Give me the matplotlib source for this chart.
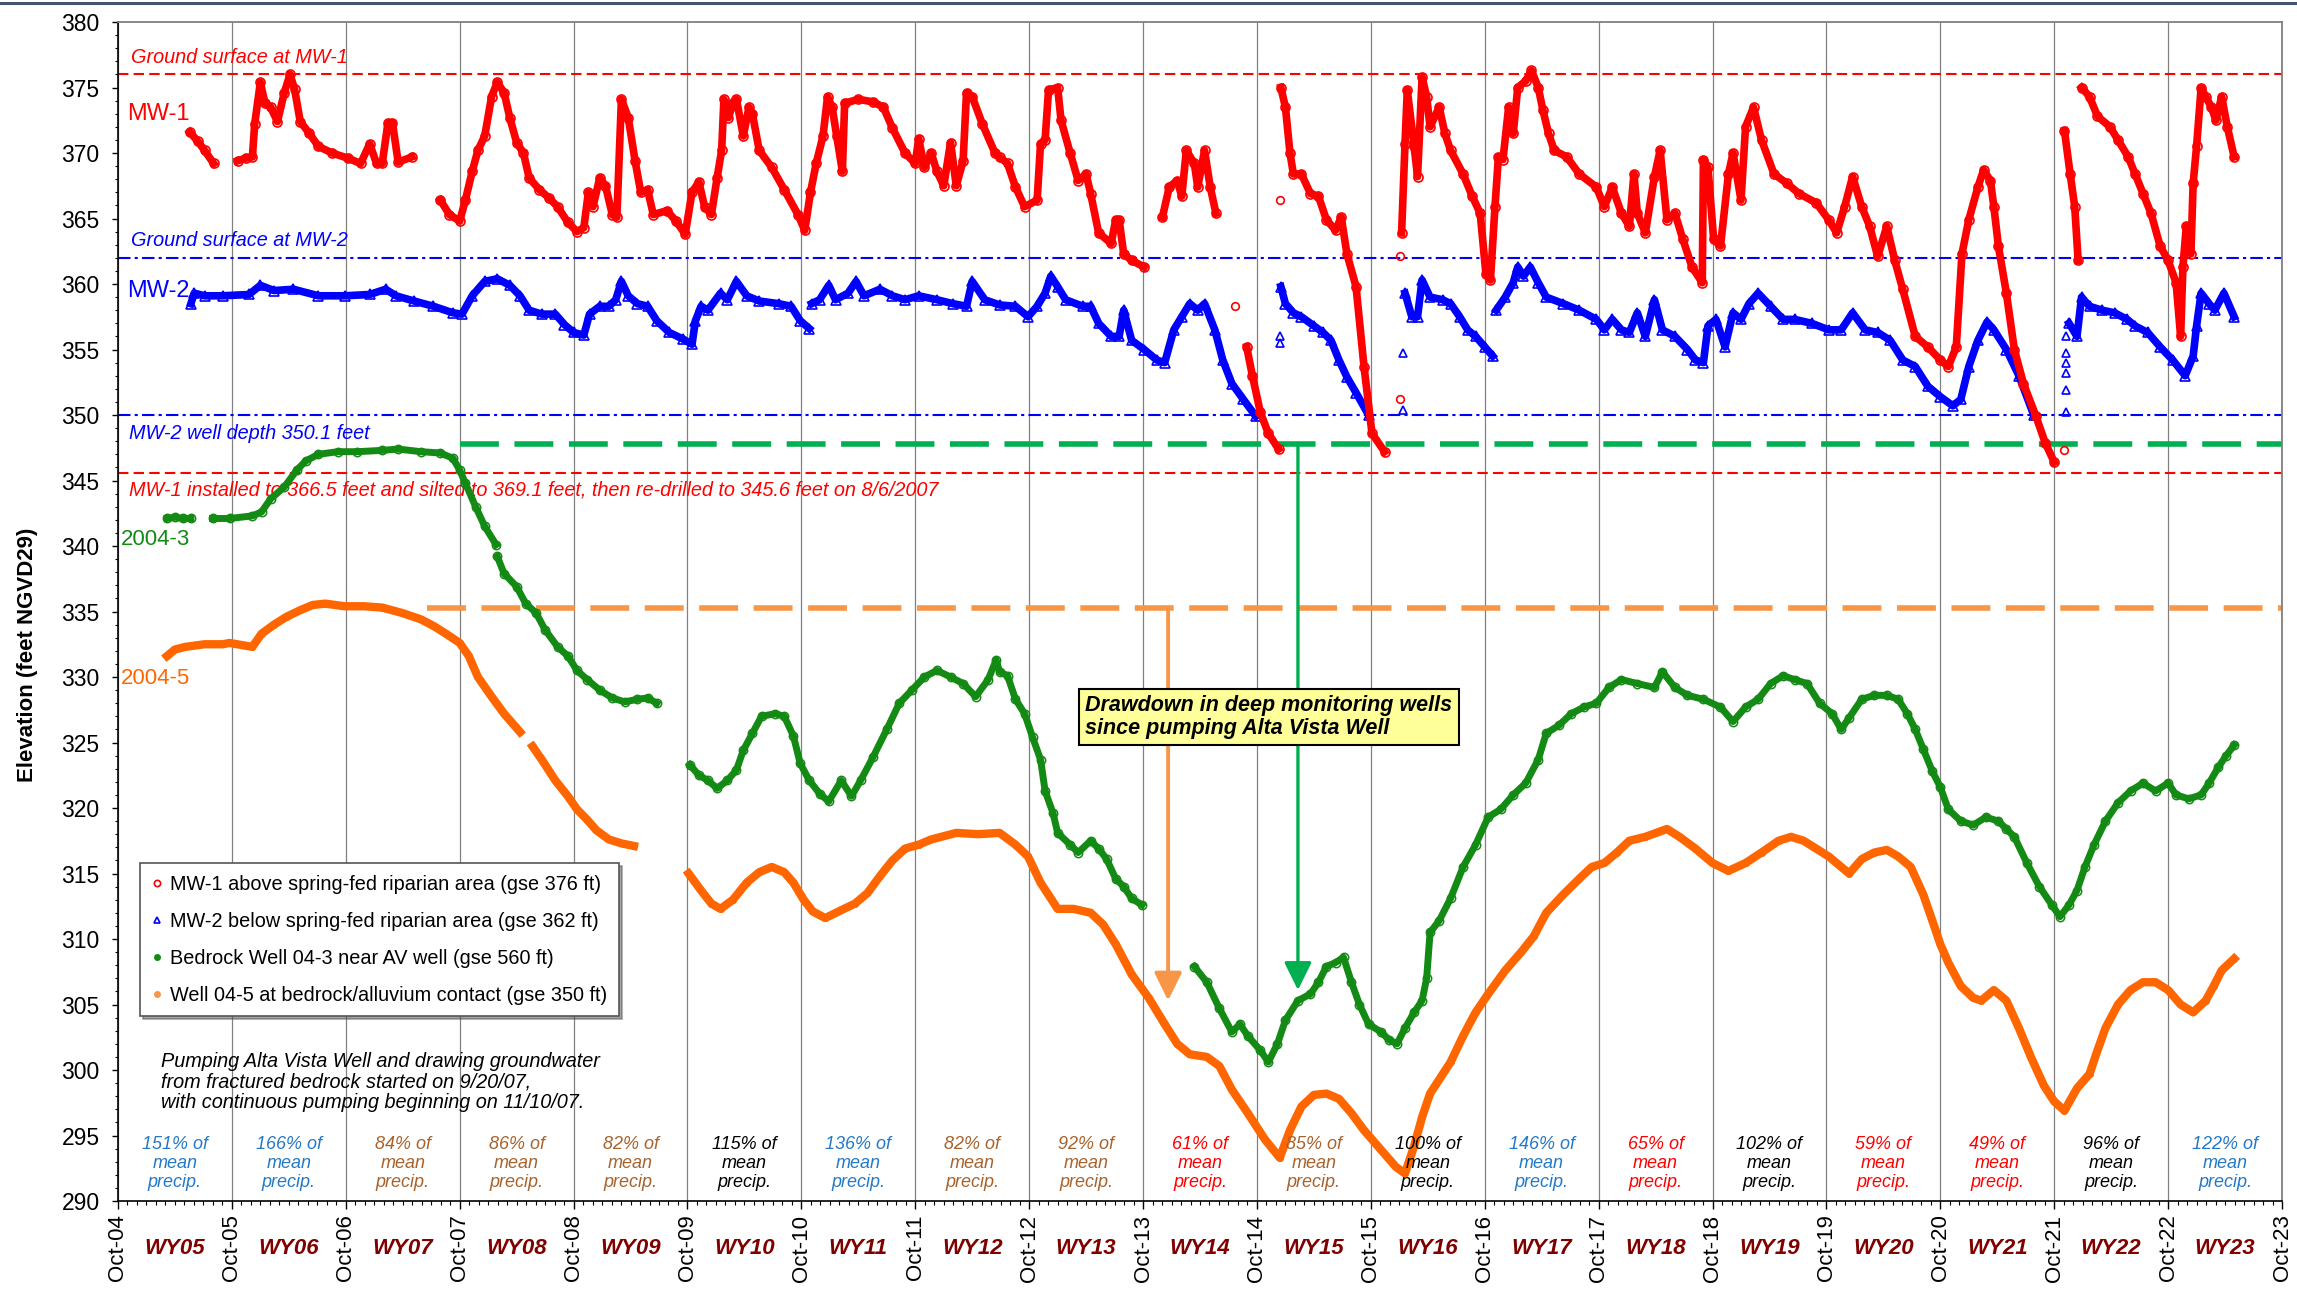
import numpy as np
import matplotlib.pyplot as plt
import matplotlib.transforms as mtransforms
from matplotlib.lines import Line2D
from matplotlib.ticker import FixedLocator, MultipleLocator

plt.rcParams['font.family'] = ['Liberation Sans', 'DejaVu Sans']

nan = np.nan

# x values are decimal years; Oct 1 of year Y sits at Y + 0.75
oct_years = list(range(2004, 2024))
wy_labels = ['WY05', 'WY06', 'WY07', 'WY08', 'WY09', 'WY10', 'WY11', 'WY12', 'WY13', 'WY14',
             'WY15', 'WY16', 'WY17', 'WY18', 'WY19', 'WY20', 'WY21', 'WY22', 'WY23']
precip_pct = [151, 166, 84, 86, 82, 115, 136, 82, 92, 61, 85, 100, 146, 65, 102, 59, 49, 96, 122]
precip_cls = ['wet', 'wet', 'dry', 'dry', 'dry', 'avg', 'wet', 'dry', 'dry', 'low',
              'dry', 'avg', 'wet', 'low', 'avg', 'low', 'low', 'avg', 'wet']

# MW-1 (red)
mw1_t = [2005.38, 2005.45, 2005.51, 2005.59, nan,
         2005.80, 2005.87, 2005.93, 2005.95, 2006.00, 2006.04, 2006.09, 2006.15, 2006.21, 2006.26,
         2006.30, 2006.35, 2006.43, 2006.51, 2006.63, 2006.77, 2006.88, 2006.96, 2007.02, 2007.07,
         2007.12, 2007.16, 2007.21, 2007.33, nan,
         2007.58, 2007.66, 2007.75, 2007.80, 2007.86, 2007.91, 2007.97, 2008.03, 2008.08, 2008.14,
         2008.19, 2008.25, 2008.31, 2008.36, 2008.45, 2008.53, 2008.61, 2008.70, 2008.78, 2008.84,
         2008.88, 2008.92, 2008.98, 2009.03, 2009.09, 2009.13, 2009.17, 2009.23, 2009.29, 2009.34,
         2009.40, 2009.45, 2009.57, 2009.65, 2009.73, 2009.79, 2009.85, 2009.90, 2009.96, 2010.01,
         2010.05, 2010.07, 2010.11, 2010.15, 2010.18, 2010.24, 2010.29, 2010.32, 2010.38, 2010.49,
         2010.60, 2010.72, 2010.78, 2010.83, 2010.88, 2010.94, 2010.98, 2011.02, 2011.06, 2011.11,
         2011.13, 2011.25, 2011.38, 2011.47, 2011.55, 2011.66, 2011.75, 2011.78, 2011.83, 2011.89,
         2011.94, 2012.00, 2012.06, 2012.11, 2012.17, 2012.20, 2012.25, 2012.34, 2012.45, 2012.49,
         2012.56, 2012.63, 2012.71, 2012.82, 2012.85, 2012.89, 2012.92, 2013.00, 2013.03, 2013.11,
         2013.18, 2013.25, 2013.29, 2013.36, 2013.47, 2013.51, 2013.54, 2013.58, 2013.65, 2013.76, nan,
         2013.92, 2013.98, 2014.05, 2014.09, 2014.13, 2014.20, 2014.23, 2014.29, 2014.34, 2014.39, nan,
         2014.66, 2014.71, 2014.78, 2014.85, 2014.94, nan,
         2014.96, 2015.00, 2015.04, 2015.07, 2015.14, 2015.22, 2015.29, 2015.36, 2015.44, 2015.49,
         2015.54, 2015.62, 2015.69, 2015.76, 2015.87, nan,
         2016.02, 2016.05, 2016.07, 2016.13, 2016.16, 2016.20, 2016.24, 2016.27, 2016.35, 2016.40,
         2016.45, 2016.56, 2016.64, 2016.71, 2016.76, 2016.80, 2016.84, 2016.87, 2016.91, 2016.96,
         2017.00, 2017.04, 2017.11, 2017.16, 2017.22, 2017.26, 2017.31, 2017.36, 2017.47, 2017.58,
         2017.73, 2017.80, 2017.87, 2017.95, 2018.02, 2018.06, 2018.09, 2018.16, 2018.24, 2018.29,
         2018.35, 2018.42, 2018.49, 2018.57, 2018.66, 2018.67, 2018.71, 2018.76, 2018.82, 2018.89,
         2018.93, 2019.00, 2019.04, 2019.11, 2019.18, 2019.29, 2019.40, 2019.51, 2019.66, 2019.77,
         2019.84, 2019.91, 2019.98, 2020.06, 2020.13, 2020.20, 2020.28, 2020.35, 2020.42, 2020.53,
         2020.64, 2020.75, 2020.82, 2020.89, 2020.94, 2021.00, 2021.08, 2021.13, 2021.19, 2021.22,
         2021.26, 2021.33, 2021.40, 2021.48, 2021.59, 2021.67, 2021.75, nan,
         2021.84, 2021.89, 2021.93, 2021.96, nan,
         2021.99, 2022.06, 2022.13, 2022.24, 2022.31, 2022.40, 2022.46, 2022.53, 2022.60, 2022.68,
         2022.75, 2022.82, 2022.86, 2022.88, 2022.91, 2022.95, 2022.97, 2023.00, 2023.04, 2023.08,
         2023.13, 2023.17, 2023.22, 2023.27, 2023.33]
mw1_v = [371.6, 370.9, 370.2, 369.2, nan,
         369.4, 369.6, 369.7, 372.2, 375.4, 373.8, 373.5, 372.4, 374.6, 376.0,
         374.9, 372.4, 371.5, 370.5, 370.0, 369.6, 369.2, 370.7, 369.2, 369.2,
         372.3, 372.3, 369.3, 369.7, nan,
         366.4, 365.3, 364.8, 366.4, 368.6, 370.2, 371.3, 374.3, 375.4, 374.6,
         372.7, 370.8, 370.0, 368.1, 367.2, 366.6, 365.9, 364.7, 364.0, 364.3,
         367.0, 365.9, 368.1, 367.5, 365.3, 365.1, 374.1, 372.7, 369.4, 367.0,
         367.2, 365.3, 365.6, 364.8, 363.8, 367.0, 367.8, 365.9, 365.3, 368.1,
         370.2, 374.1, 372.7, 373.8, 374.1, 371.3, 373.5, 373.0, 370.2, 368.9,
         367.2, 365.3, 364.1, 367.0, 369.2, 371.3, 374.3, 373.5, 371.3, 368.6,
         373.8, 374.1, 373.9, 373.5, 371.9, 370.0, 369.2, 371.1, 368.9, 370.0,
         368.6, 367.5, 370.8, 367.5, 369.4, 374.6, 374.3, 372.2, 370.0, 369.7,
         369.2, 367.4, 365.9, 366.4, 370.7, 371.0, 374.8, 375.0, 372.5, 370.0,
         367.9, 368.4, 366.9, 363.9, 363.1, 364.9, 364.9, 362.3, 361.8, 361.3, nan,
         365.1, 367.4, 367.9, 366.7, 370.2, 369.2, 367.4, 370.2, 367.4, 365.4, nan,
         355.2, 353.0, 350.2, 348.6, 347.4, nan,
         375.0, 373.5, 370.0, 368.4, 368.4, 366.9, 366.7, 364.9, 364.1, 365.1,
         362.3, 359.8, 353.7, 348.6, 347.2, nan,
         363.9, 370.7, 374.8, 370.5, 368.2, 375.8, 374.3, 372.0, 373.5, 371.5,
         370.2, 368.4, 366.7, 365.4, 360.8, 360.3, 365.9, 369.7, 369.5, 373.5,
         371.5, 375.0, 375.5, 376.3, 375.0, 373.3, 371.5, 370.2, 369.7, 368.4,
         367.4, 365.9, 367.4, 365.4, 364.4, 368.4, 365.4, 363.9, 368.2, 370.2,
         364.9, 365.4, 363.4, 361.3, 360.1, 369.5, 368.9, 363.4, 362.9, 368.4,
         370.0, 366.4, 372.0, 373.5, 371.0, 368.4, 367.7, 366.9, 366.2, 364.9,
         363.9, 365.9, 368.2, 365.9, 364.4, 362.1, 364.4, 361.8, 359.6, 356.0,
         355.2, 354.2, 353.7, 355.2, 362.3, 364.9, 367.4, 368.7, 367.9, 365.9,
         362.9, 359.3, 355.0, 352.4, 349.9, 347.9, 346.4, nan,
         371.7, 368.4, 365.9, 361.8, nan,
         375.0, 374.3, 372.8, 372.0, 371.0, 369.7, 368.4, 366.9, 365.4, 362.9,
         361.8, 360.1, 356.0, 361.3, 364.4, 362.3, 367.7, 370.5, 375.0, 374.3,
         373.5, 372.5, 374.3, 372.0, 369.7]
mw1_pts_t = [2014.56, 2014.95, 2016.01, 2016.01, 2021.84]
mw1_pts_v = [358.3, 366.4, 351.2, 362.1, 347.3]

# MW-2 (blue)
mw2_t = [2005.39, 2005.42, 2005.51, 2005.67, 2005.90, 2006.00, 2006.12, 2006.29, 2006.51, 2006.74,
         2006.96, 2007.10, 2007.19, 2007.35, 2007.52, 2007.69, 2007.77, 2007.86, 2007.97, 2008.08,
         2008.19, 2008.28, 2008.36, 2008.47, 2008.59, 2008.67, 2008.75, 2008.84, 2008.89, 2008.98,
         2009.06, 2009.12, 2009.17, 2009.23, 2009.31, 2009.40, 2009.48, 2009.59, 2009.71, 2009.79,
         2009.82, 2009.87, 2009.93, 2010.04, 2010.10, 2010.18, 2010.27, 2010.38, 2010.55, 2010.66,
         2010.74, 2010.82, nan,
         2010.84, 2010.91, 2010.99, 2011.05, 2011.16, 2011.23, 2011.30, 2011.44, 2011.55, 2011.66,
         2011.78, 2011.94, 2012.08, 2012.20, 2012.25, 2012.36, 2012.49, 2012.63, 2012.74, 2012.82,
         2012.89, 2012.94, 2013.00, 2013.07, 2013.22, 2013.29, 2013.36, 2013.47, 2013.54, 2013.58,
         2013.65, 2013.76, 2013.87, 2013.94, 2014.02, 2014.09, 2014.16, 2014.23, 2014.29, 2014.38,
         2014.45, 2014.53, 2014.63, 2014.74, nan,
         2014.96, 2015.00, 2015.07, 2015.14, 2015.25, 2015.33, 2015.40, 2015.47, 2015.54, 2015.62,
         2015.73, nan,
         2016.05, 2016.11, 2016.16, 2016.20, 2016.27, 2016.38, 2016.45, 2016.53, 2016.60, 2016.67,
         2016.75, 2016.82, nan,
         2016.85, 2016.93, 2017.00, 2017.04, 2017.09, 2017.15, 2017.22, 2017.29, 2017.44, 2017.58,
         2017.73, 2017.80, 2017.87, 2017.95, 2018.02, 2018.09, 2018.16, 2018.24, 2018.31, 2018.42,
         2018.53, 2018.60, 2018.67, 2018.71, 2018.78, 2018.86, 2018.93, 2019.00, 2019.07, 2019.15,
         2019.26, 2019.37, 2019.47, 2019.62, 2019.77, 2019.88, 2019.98, 2020.09, 2020.20, 2020.31,
         2020.42, 2020.53, 2020.64, 2020.75, 2020.86, 2020.93, 2021.00, 2021.08, 2021.16, 2021.22,
         2021.33, 2021.44, 2021.57, nan,
         2021.88, 2021.95, 2021.99, 2022.06, 2022.17, 2022.28, 2022.39, 2022.46, 2022.57, 2022.68,
         2022.79, 2022.90, 2022.97, 2023.00, 2023.04, 2023.11, 2023.16, 2023.24, 2023.33]
mw2_v = [358.5, 359.3, 359.1, 359.1, 359.2, 359.9, 359.5, 359.6, 359.1, 359.1,
         359.2, 359.6, 359.1, 358.7, 358.3, 357.8, 357.7, 359.1, 360.2, 360.4,
         359.9, 359.1, 358.0, 357.7, 357.7, 356.9, 356.3, 356.1, 357.7, 358.3,
         358.3, 358.8, 360.2, 359.1, 358.5, 358.3, 357.2, 356.3, 355.8, 355.4,
         357.2, 358.3, 358.0, 359.3, 358.8, 360.2, 359.1, 358.7, 358.5, 358.3,
         357.2, 356.6, nan,
         358.5, 358.8, 359.9, 358.8, 359.3, 360.2, 359.1, 359.6, 359.1, 358.8,
         359.1, 358.8, 358.5, 358.3, 360.2, 358.8, 358.4, 358.3, 357.5, 358.3,
         359.3, 360.6, 359.8, 358.8, 358.3, 358.3, 357.0, 356.0, 356.0, 358.0,
         355.7, 355.0, 354.2, 354.0, 356.5, 357.5, 358.5, 358.0, 358.5, 356.5,
         354.2, 352.4, 351.2, 349.9, nan,
         359.8, 358.5, 357.8, 357.5, 356.8, 356.3, 355.7, 354.2, 352.9, 351.7,
         350.0, nan,
         359.3, 357.5, 357.5, 360.3, 359.0, 358.8, 358.5, 357.5, 356.5, 356.0,
         355.2, 354.5, nan,
         358.0, 359.0, 360.1, 361.3, 360.6, 361.3, 360.1, 359.0, 358.5, 358.0,
         357.3, 356.5, 357.3, 356.5, 356.3, 357.8, 356.0, 358.8, 356.5, 356.0,
         355.0, 354.2, 354.0, 356.8, 357.3, 355.2, 357.8, 357.3, 358.5, 359.3,
         358.3, 357.3, 357.3, 357.0, 356.5, 356.5, 357.8, 356.5, 356.3, 355.7,
         354.2, 353.7, 352.2, 351.4, 350.7, 351.2, 353.7, 355.7, 357.1, 356.5,
         355.0, 353.0, 350.0, nan,
         357.0, 356.0, 359.0, 358.3, 358.0, 357.8, 357.3, 356.8, 356.3, 355.2,
         354.2, 353.0, 354.5, 356.8, 359.3, 358.5, 358.0, 359.3, 357.5]
mw2_pts_t = [2014.95, 2014.95, 2016.03, 2016.03, 2021.85, 2021.85, 2021.85, 2021.85, 2021.85, 2021.85]
mw2_pts_v = [355.5, 356.0, 350.4, 354.7, 350.2, 351.9, 353.2, 354.0, 354.7, 356.0]

# Bedrock well 2004-3 (green)
w43_t = [2005.18, 2005.25, 2005.32, 2005.39, nan,
         2005.58, 2005.73, 2005.93, 2006.01, 2006.09, 2006.21, 2006.32, 2006.40, 2006.51, 2006.68,
         2006.85, 2007.07, 2007.21, 2007.41, 2007.58, 2007.69, 2007.75, 2007.80, 2007.89, 2007.97,
         2008.07, nan,
         2008.08, 2008.14, 2008.25, 2008.33, 2008.42, 2008.50, 2008.61, 2008.70, 2008.78, 2008.87,
         2008.98, 2009.09, 2009.20, 2009.31, 2009.40, 2009.48, nan,
         2009.77, 2009.85, 2009.93, 2010.01, 2010.10, 2010.18, 2010.24, 2010.32, 2010.40, 2010.52,
         2010.60, 2010.68, 2010.74, 2010.82, 2010.91, 2010.99, 2011.10, 2011.19, 2011.27, 2011.38,
         2011.50, 2011.61, 2011.72, 2011.83, 2011.94, 2012.06, 2012.17, 2012.28, 2012.39, 2012.46,
         2012.49, 2012.56, 2012.63, 2012.71, 2012.78, 2012.85, 2012.89, 2012.96, 2013.00, 2013.11,
         2013.18, 2013.29, 2013.36, 2013.43, 2013.51, 2013.58, 2013.65, 2013.74, nan,
         2014.20, 2014.31, 2014.42, 2014.53, 2014.60, 2014.67, 2014.78, 2014.85, 2014.93, 2015.00,
         2015.11, 2015.22, 2015.29, 2015.36, 2015.44, 2015.51, 2015.58, 2015.65, 2015.73, 2015.84,
         2015.91, 2015.98, 2016.05, 2016.13, 2016.20, 2016.24, 2016.27, 2016.35, 2016.45, 2016.56,
         2016.67, 2016.78, 2016.89, 2017.00, 2017.11, 2017.22, 2017.29, 2017.40, 2017.51, 2017.62,
         2017.73, 2017.84, 2017.95, 2018.09, 2018.24, 2018.31, 2018.42, 2018.53, 2018.67, 2018.82,
         2018.93, 2019.04, 2019.15, 2019.26, 2019.37, 2019.47, 2019.58, 2019.69, 2019.80, 2019.88,
         2019.95, 2020.06, 2020.17, 2020.28, 2020.38, 2020.46, 2020.53, 2020.60, 2020.68, 2020.75,
         2020.82, 2020.93, 2021.04, 2021.15, 2021.26, 2021.33, 2021.40, 2021.51, 2021.62, 2021.73,
         2021.80, 2021.88, 2021.95, 2022.02, 2022.10, 2022.20, 2022.31, 2022.42, 2022.53, 2022.64,
         2022.75, 2022.82, 2022.93, 2023.04, 2023.11, 2023.19, 2023.26, 2023.33]
w43_v = [342.1, 342.2, 342.1, 342.1, nan,
         342.1, 342.1, 342.3, 342.6, 343.6, 344.5, 345.8, 346.5, 347.0, 347.2,
         347.2, 347.3, 347.4, 347.2, 347.1, 346.7, 345.8, 344.8, 343.0, 341.5,
         340.1, nan,
         339.2, 337.9, 336.9, 335.6, 334.9, 333.6, 332.3, 331.6, 330.5, 329.8,
         329.0, 328.4, 328.1, 328.3, 328.4, 328.0, nan,
         323.3, 322.5, 322.1, 321.5, 322.1, 322.9, 324.4, 325.7, 327.0, 327.2,
         327.0, 325.5, 323.4, 322.1, 321.1, 320.5, 322.1, 320.9, 322.1, 323.9,
         326.0, 328.0, 329.0, 330.0, 330.5, 330.0, 329.5, 328.5, 329.8, 331.3,
         330.4, 330.1, 328.3, 327.2, 325.4, 323.7, 321.3, 319.6, 318.1, 317.2,
         316.6, 317.5, 316.9, 316.1, 314.6, 314.0, 313.1, 312.6, nan,
         307.9, 306.7, 304.7, 302.9, 303.5, 302.6, 301.5, 300.6, 302.0, 303.8,
         305.3, 305.8, 306.7, 307.9, 308.2, 308.6, 306.7, 305.0, 303.5, 302.9,
         302.3, 302.0, 303.2, 304.4, 305.3, 307.0, 310.5, 311.4, 313.1, 315.5,
         317.2, 319.3, 319.9, 321.0, 321.9, 323.7, 325.7, 326.3, 327.2, 327.7,
         328.0, 329.2, 329.8, 329.5, 329.2, 330.4, 329.2, 328.6, 328.3, 327.7,
         326.6, 327.7, 328.3, 329.5, 330.1, 329.8, 329.5, 328.0, 327.2, 326.0,
         326.9, 328.3, 328.6, 328.6, 328.3, 327.2, 326.0, 324.5, 322.8, 321.6,
         319.9, 319.0, 318.7, 319.3, 319.0, 318.4, 317.8, 315.8, 314.0, 312.6,
         311.7, 312.6, 313.7, 315.5, 317.2, 319.0, 320.4, 321.3, 321.9, 321.3,
         321.9, 321.0, 320.7, 321.0, 321.9, 323.1, 324.0, 324.8]

# Well 2004-5 (orange)
w45_t = [2005.18, 2005.25, 2005.34, 2005.51, 2005.67, 2005.73, 2005.93, 2006.01, 2006.12, 2006.23,
         2006.35, 2006.46, 2006.57, 2006.74, 2006.91, 2007.07, 2007.24, 2007.41, 2007.52, 2007.63,
         2007.75, 2007.83, 2007.91, 2008.03, 2008.14, 2008.28, nan,
         2008.39, 2008.47, 2008.59, 2008.70, 2008.78, 2008.87, 2008.95, 2009.06, 2009.17, 2009.28, nan,
         2009.76, 2009.87, 2009.96, 2010.04, 2010.15, 2010.27, 2010.38, 2010.49, 2010.60, 2010.68,
         2010.77, 2010.85, 2010.96, 2011.10, 2011.22, 2011.33, 2011.44, 2011.55, 2011.66, 2011.78,
         2011.89, 2012.11, 2012.30, 2012.49, 2012.63, 2012.74, 2012.85, 2013.00, 2013.14, 2013.29,
         2013.40, 2013.51, 2013.65, 2013.80, 2013.94, 2014.05, 2014.16, 2014.31, 2014.42, 2014.53,
         2014.67, 2014.82, 2014.95, 2015.04, 2015.14, 2015.25, 2015.36, 2015.47, 2015.58, 2015.69,
         2015.84, 2015.97, 2016.05, 2016.13, 2016.20, 2016.27, 2016.45, 2016.56, 2016.67, 2016.78,
         2016.93, 2017.07, 2017.18, 2017.29, 2017.44, 2017.58, 2017.69, 2017.80, 2017.91, 2018.02,
         2018.16, 2018.35, 2018.46, 2018.60, 2018.75, 2018.89, 2019.04, 2019.18, 2019.33, 2019.44,
         2019.55, 2019.66, 2019.77, 2019.88, 2019.95, 2020.06, 2020.17, 2020.28, 2020.38, 2020.49,
         2020.60, 2020.68, 2020.75, 2020.82, 2020.93, 2021.04, 2021.11, 2021.22, 2021.33, 2021.44,
         2021.55, 2021.66, 2021.75, 2021.84, 2021.95, 2022.06, 2022.13, 2022.20, 2022.31, 2022.42,
         2022.53, 2022.64, 2022.75, 2022.86, 2022.97, 2023.08, 2023.15, 2023.22, 2023.33]
w45_v = [331.6, 332.1, 332.3, 332.5, 332.5, 332.6, 332.3, 333.3, 334.0, 334.6,
         335.1, 335.5, 335.6, 335.4, 335.4, 335.3, 334.9, 334.4, 333.9, 333.3,
         332.6, 331.6, 330.0, 328.5, 327.2, 325.8, nan,
         324.7, 323.7, 322.1, 320.9, 319.9, 319.1, 318.3, 317.6, 317.3, 317.1, nan,
         315.0, 313.7, 312.7, 312.3, 313.0, 314.3, 315.1, 315.5, 315.1, 314.3,
         313.0, 312.1, 311.6, 312.2, 312.7, 313.5, 314.8, 316.0, 316.9, 317.2,
         317.6, 318.1, 318.0, 318.1, 317.2, 316.3, 314.3, 312.3, 312.3, 312.0,
         311.1, 309.6, 307.3, 305.5, 303.5, 302.0, 301.2, 301.0, 300.3, 298.5,
         296.7, 294.7, 293.3, 295.4, 297.2, 298.1, 298.2, 297.8, 296.7, 295.4,
         293.9, 292.6, 292.1, 294.2, 296.4, 298.2, 300.6, 302.6, 304.4, 305.8,
         307.6, 309.0, 310.2, 312.0, 313.4, 314.6, 315.5, 315.8, 316.6, 317.5,
         317.8, 318.4, 317.8, 316.9, 315.8, 315.2, 315.8, 316.6, 317.5, 317.8,
         317.5, 316.9, 316.3, 315.5, 315.0, 316.1, 316.6, 316.8, 316.3, 315.5,
         313.4, 311.4, 309.6, 308.2, 306.4, 305.5, 305.3, 306.1, 305.3, 303.2,
         300.9, 298.8, 297.6, 296.9, 298.6, 299.7, 301.5, 303.2, 305.0, 306.1,
         306.7, 306.7, 306.1, 305.0, 304.4, 305.3, 306.4, 307.6, 308.5]

# reference levels (ft)
gse_mw1 = 376.0
gse_mw2 = 362.0
mw2_depth = 350.0
mw1_depth = 345.6
w43_prepump = 347.8
w45_prepump = 335.3
w43_arrow = (2015.11, 306.1)
w45_arrow = (2013.97, 305.3)

RED, BLUE, GREEN, ORANGE = '#FF0000', '#0000FF', '#138A13', '#FF6600'
precip_color = {'wet': '#2479C7', 'dry': '#A8622C', 'low': '#FF0000', 'avg': '#000000'}

fig = plt.figure(figsize=(22.97, 12.93), dpi=100)
ax = fig.add_axes([0.05137, 0.07115, 0.94210, 0.91183])
fig.add_artist(Line2D([0, 1], [0.9975, 0.9975], color='#44546A', lw=2.2, transform=fig.transFigure))

ax.set_xlim(2004.75, 2023.75)
ax.set_ylim(290, 380)

# reference lines
ax.axhline(gse_mw1, color=RED, lw=1.5, dashes=(5, 2.5), zorder=2)
ax.axhline(mw1_depth, color=RED, lw=1.5, dashes=(5, 2.5), zorder=2)
ax.axhline(gse_mw2, color=BLUE, lw=1.5, dashes=(6, 2, 1.5, 2), zorder=2)
ax.axhline(mw2_depth, color=BLUE, lw=1.5, dashes=(6, 2, 1.5, 2), zorder=2)
ax.plot([2007.75, 2023.75], [w43_prepump] * 2, color='#00B050', lw=4.0, dashes=(7, 2.8), zorder=2.2)
ax.plot([2007.46, 2023.75], [w45_prepump] * 2, color='#F79646', lw=4.0, dashes=(7, 2.8), zorder=2.2)

txt = dict(style='italic', fontsize=14.3, va='center', ha='left', zorder=2.5)
blend = mtransforms.blended_transform_factory(ax.transAxes, ax.transData)
ax.text(0.006, 377.3, 'Ground surface at MW-1', color=RED, transform=blend, **txt)
ax.text(0.006, 363.3, 'Ground surface at MW-2', color=BLUE, transform=blend, **txt)
ax.text(0.005, 348.6, 'MW-2 well depth 350.1 feet', color=BLUE, transform=blend, **txt)
ax.text(0.005, 344.3, 'MW-1 installed to 366.5 feet and silted to 369.1 feet, then re-drilled to 345.6 feet on 8/6/2007',
        color=RED, transform=blend, **txt)
ax.text(0.004, 373.0, 'MW-1', color=RED, fontsize=17, va='center', transform=blend, zorder=2.5)
ax.text(0.004, 359.5, 'MW-2', color=BLUE, fontsize=17, va='center', transform=blend, zorder=2.5)
ax.text(0.0015, 340.5, '2004-3', color=GREEN, fontsize=16, va='center', transform=blend, zorder=2.5)
ax.text(0.0015, 329.9, '2004-5', color=ORANGE, fontsize=16, va='center', transform=blend, zorder=2.5)

# series
ax.plot(w45_t, w45_v, color=ORANGE, lw=6.0, marker='o', ms=5, mew=0, zorder=3)
ax.plot(w43_t, w43_v, color=GREEN, lw=5.0, marker='o', ms=6, mfc='none', mec=GREEN, mew=1.1, zorder=3)
ax.plot(mw2_t, mw2_v, color=BLUE, lw=5.5, marker='^', ms=6.5, mfc='none', mec=BLUE, mew=1.2, zorder=3.1)
ax.plot(mw2_pts_t, mw2_pts_v, ls='none', marker='^', ms=5.5, mfc='none', mec=BLUE, mew=1.2, zorder=3.1)
ax.plot(mw1_t, mw1_v, color=RED, lw=5.5, marker='o', ms=6.5, mfc='none', mec=RED, mew=1.2, zorder=3.2)
ax.plot(mw1_pts_t, mw1_pts_v, ls='none', marker='o', ms=5.5, mfc='none', mec=RED, mew=1.2, zorder=3.2)

# drawdown arrows
for (xa, ya), y0, col, lw in [(w45_arrow, w45_prepump, '#F79646', 2.8), (w43_arrow, w43_prepump, '#00B050', 2.4)]:
    ax.annotate('', xy=(xa, ya), xytext=(xa, y0),
                arrowprops=dict(arrowstyle='-|>,head_width=0.42,head_length=0.85', color=col, lw=lw,
                                mutation_scale=20, shrinkA=0, shrinkB=0), zorder=4)

ax.text(2013.24, 326.95, 'Drawdown in deep monitoring wells\nsince pumping Alta Vista Well',
        fontsize=15.5, fontweight='bold', style='italic', ha='left', va='center', linespacing=1.1,
        bbox=dict(boxstyle='square,pad=0.3', fc='#FFFF99', ec='black', lw=1.5), zorder=6)

ax.text(0.0199, 0.101, 'Pumping Alta Vista Well and drawing groundwater\nfrom fractured bedrock started on 9/20/07,\n'
        'with continuous pumping beginning on 11/10/07.', transform=ax.transAxes, style='italic',
        fontsize=14.3, ha='left', va='center', linespacing=1.1, zorder=5)

# precipitation notes and water-year labels
wy_blend = mtransforms.blended_transform_factory(ax.transData, ax.transAxes)
for i, (lab, pct, cls) in enumerate(zip(wy_labels, precip_pct, precip_cls)):
    xc = oct_years[i] + 1.25
    ax.text(xc, 292.83, '%d%% of\nmean\nprecip.' % pct, color=precip_color[cls], style='italic',
            fontsize=13, ha='center', va='center', linespacing=1.15, zorder=5)
    ax.text(xc, -0.04, lab, transform=wy_blend, color='#800000', fontsize=16, fontweight='bold',
            style='italic', ha='center', va='center', clip_on=False)

# legend
handles = [Line2D([], [], ls='none', marker='o', ms=4.5, mfc='none', mec=RED, mew=1.2),
           Line2D([], [], ls='none', marker='^', ms=4.5, mfc='none', mec=BLUE, mew=1.2),
           Line2D([], [], ls='none', marker='o', ms=4, mfc=GREEN, mec=GREEN),
           Line2D([], [], ls='none', marker='o', ms=4, mfc='#F79646', mec='#F79646')]
labels = ['MW-1 above spring-fed riparian area (gse 376 ft)',
          'MW-2 below spring-fed riparian area (gse 362 ft)',
          'Bedrock Well 04-3 near AV well (gse 560 ft)',
          'Well 04-5 at bedrock/alluvium contact (gse 350 ft)']
leg = ax.legend(handles, labels, loc='upper left', bbox_to_anchor=(0.0102, 0.2867), fontsize=14.3,
                frameon=True, fancybox=False, shadow=True, edgecolor='#555555', framealpha=1,
                handlelength=0.5, handletextpad=0.4, labelspacing=0.9, borderpad=0.6, borderaxespad=0)
leg.get_frame().set_linewidth(1.2)
leg.set_zorder(7)

# axes, ticks, grid
ax.set_xticks([y + 0.75 for y in oct_years])
ax.set_xticklabels(['Oct-%02d' % (y % 100) for y in oct_years], rotation=90, fontsize=16)
ax.xaxis.set_minor_locator(FixedLocator([2004.75 + m / 12 for m in range(229)]))
ax.yaxis.set_major_locator(MultipleLocator(5))
ax.yaxis.set_minor_locator(MultipleLocator(1))
ax.tick_params(axis='y', which='major', labelsize=16.5, length=4.3, pad=9, width=1)
ax.tick_params(axis='y', which='minor', length=2.5, width=0.8)
ax.tick_params(axis='x', which='major', length=5.8, width=1, pad=4)
ax.tick_params(axis='x', which='minor', length=3.2, width=0.8)
ax.grid(axis='x', which='major', color='#808080', lw=0.9)
ax.set_axisbelow(True)
for side in ['top', 'right']:
    ax.spines[side].set_color('#808080')
    ax.spines[side].set_linewidth(1.3)
for side in ['left', 'bottom']:
    ax.spines[side].set_linewidth(1.2)

ax.set_ylabel('Elevation (feet NGVD29)', fontsize=16, fontweight='bold')
ax.yaxis.set_label_coords(-0.037, 0.463)

fig.savefig('out.png', dpi=100)
